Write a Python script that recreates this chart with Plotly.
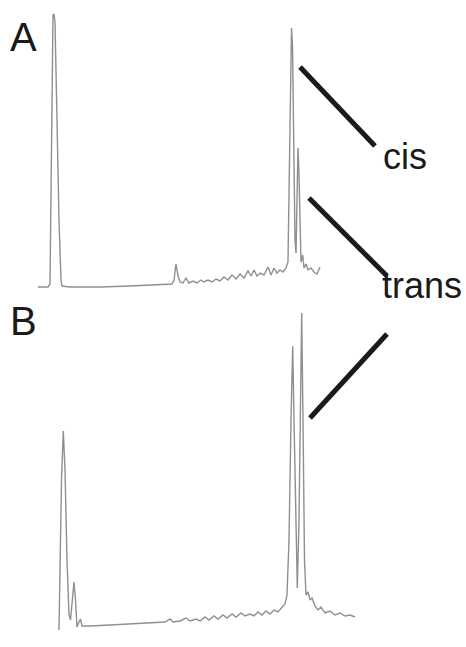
import plotly.graph_objects as go

W, H = 466, 647

# Chromatogram A: retention time (min) and detector signal (a.u.)
time_a = [0.8, 1.8, 2.0, 2.1, 2.2, 2.3, 2.4, 2.5, 2.7, 2.9, 3.1, 3.2, 4.0, 7.0, 10.0, 13.0,
          14.2, 14.4, 14.6, 14.8, 15.0, 15.3, 15.6, 15.9, 16.3, 16.7, 17.1, 17.4, 17.8, 18.2,
          18.6, 19.0, 19.4, 19.8, 20.2, 20.6, 21.0, 21.4, 21.8, 22.1, 22.4, 22.7, 23.0, 23.4,
          23.8, 24.1, 24.4, 24.7, 25.0, 25.3, 25.6, 25.8, 25.9, 26.0, 26.15, 26.25, 26.35,
          26.5, 26.6, 26.7, 26.8, 26.9, 27.0, 27.1, 27.27, 27.4, 27.6, 27.8, 28.1, 28.4,
          28.7, 29.0]
signal_a = [0, 0, 3, 87, 227, 272, 273, 265, 167, 67, 7, 1, 0, 0, 1, 2,
            3, 7, 23, 11, 5, 4, 9, 4, 6, 4, 7, 5, 7, 5,
            8, 6, 10, 7, 12, 8, 13, 9, 16, 11, 17, 11, 14, 12,
            20, 12, 19, 14, 17, 15, 19, 25, 87, 187, 259, 242, 137,
            47, 34, 77, 139, 112, 47, 25, 32, 19, 23, 17, 19, 15,
            13, 20]

# Chromatogram B
time_b = [2.9, 3.0, 3.15, 3.33, 3.5, 3.7, 3.9, 4.05, 4.2, 4.4, 4.55, 4.7, 4.9, 5.05, 5.2,
          6.0, 8.0, 10.0, 12.0, 13.5, 14.0, 14.3, 15.0, 15.6, 16.0, 16.6, 17.0, 17.5, 17.9,
          18.4, 18.8, 19.3, 19.7, 20.2, 20.6, 21.1, 21.5, 22.0, 22.4, 22.8, 23.2, 23.6, 24.0,
          24.4, 24.8, 25.2, 25.5, 25.7, 25.9, 26.1, 26.27, 26.4, 26.6, 26.73, 26.9, 27.05,
          27.17, 27.3, 27.45, 27.6, 27.8, 28.0, 28.2, 28.5, 28.8, 29.1, 29.5, 30.0, 30.5,
          31.0, 31.5, 32.0, 32.5]
signal_b = [0, 60, 150, 199, 160, 70, 15, 10, 30, 48, 30, 3, 8, 11, 4,
            4, 5, 6, 7, 8, 11, 8, 9, 12, 9, 11, 9, 13, 10,
            14, 11, 15, 12, 16, 13, 17, 14, 16, 14, 18, 15, 19, 16,
            20, 18, 22, 26, 35, 90, 210, 284, 210, 80, 42, 110, 250,
            317, 210, 70, 35, 38, 30, 32, 24, 20, 23, 17, 19, 15,
            17, 14, 15, 13]

panel_labels = ["A", "B"]
peak_labels = ["cis", "trans"]

trace_color = "#8f8f8f"

fig = go.Figure()
fig.add_trace(go.Scatter(x=time_a, y=signal_a, mode="lines",
                         line=dict(color=trace_color, width=1.4),
                         xaxis="x", yaxis="y", showlegend=False))
fig.add_trace(go.Scatter(x=time_b, y=signal_b, mode="lines",
                         line=dict(color=trace_color, width=1.4),
                         xaxis="x2", yaxis="y2", showlegend=False))

def px(x):
    return x / W

def py(y):
    return 1 - y / H

hidden = dict(visible=False, showgrid=False, zeroline=False, fixedrange=True)
fig.update_layout(
    width=W, height=H,
    margin=dict(l=0, r=0, t=0, b=0),
    paper_bgcolor="white", plot_bgcolor="white",
    xaxis=dict(domain=[px(30), px(360)], range=[0, 33], anchor="y", **hidden),
    yaxis=dict(domain=[py(300), py(0)], range=[-13, 287], anchor="x", **hidden),
    xaxis2=dict(domain=[px(30), px(360)], range=[0, 33], anchor="y2", **hidden),
    yaxis2=dict(domain=[py(640), py(300)], range=[-10, 330], anchor="x2", **hidden),
)

# leader lines
seg = [((300, 67), (375, 146)), ((309, 198), (387, 276)), ((387, 334), (310, 418))]
for (x0, y0), (x1, y1) in seg:
    fig.add_shape(type="line", xref="paper", yref="paper",
                  x0=px(x0), y0=py(y0), x1=px(x1), y1=py(y1),
                  line=dict(color="#1a1a1a", width=5))

font = "Liberation Sans, Arial, sans-serif"
fig.add_annotation(text=panel_labels[0], x=px(8), y=py(37), xref="paper", yref="paper",
                   xanchor="left", yanchor="middle", showarrow=False,
                   font=dict(family=font, size=40, color="#1a1a1a"))
fig.add_annotation(text=panel_labels[1], x=px(8), y=py(321), xref="paper", yref="paper",
                   xanchor="left", yanchor="middle", showarrow=False,
                   font=dict(family=font, size=40, color="#1a1a1a"))
fig.add_annotation(text=peak_labels[0], x=px(381), y=py(157), xref="paper", yref="paper",
                   xanchor="left", yanchor="middle", showarrow=False,
                   font=dict(family=font, size=36, color="#1a1a1a"))
fig.add_annotation(text=peak_labels[1], x=px(380), y=py(285), xref="paper", yref="paper",
                   xanchor="left", yanchor="middle", showarrow=False,
                   font=dict(family=font, size=36, color="#1a1a1a"))

fig.write_html("out.html", config={"displayModeBar": False},
               post_script="document.body.style.margin='0px';document.body.style.overflow='hidden';")
